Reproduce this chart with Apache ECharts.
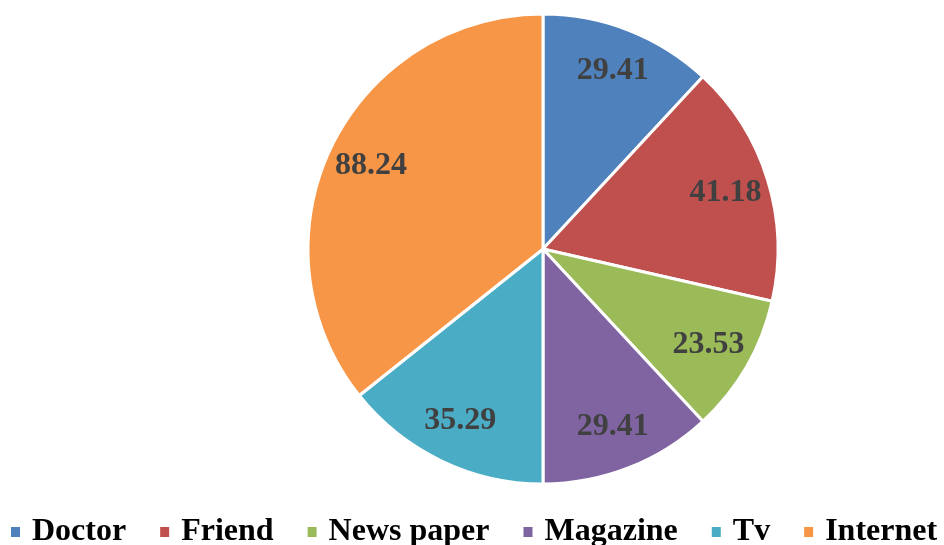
<!DOCTYPE html>
<html><head><meta charset="utf-8">
<script src="https://cdn.jsdelivr.net/npm/echarts@6/dist/echarts.min.js"></script>
<style>html,body{margin:0;padding:0;background:#fff}#c{width:944px;height:545px}</style>
</head><body><div id="c"></div>
<script>
var categories = ['Doctor', 'Friend', 'News paper', 'Magazine', 'Tv', 'Internet'];
var values = [29.41, 41.18, 23.53, 29.41, 35.29, 88.24];
var colors = ['#4F81BD', '#C0504D', '#9BBB59', '#8064A2', '#4BACC6', '#F79646'];

var data = categories.map(function (c, i) { return { name: c, value: values[i] }; });
var chart = echarts.init(document.getElementById('c'));
chart.setOption({
  animation: false,
  color: colors,
  legend: {
    data: categories,
    left: 4,
    top: 511,
    width: 1200,
    itemWidth: 11,
    itemHeight: 12,
    itemGap: 32,
    icon: 'rect',
    textStyle: { fontFamily: 'Liberation Serif', fontWeight: 'bold', fontSize: 32, color: '#000', padding: [0, 0, 0, 6] }
  },
  series: [{
    type: 'pie',
    center: [543, 249],
    radius: [0, 235],
    startAngle: 90,
    clockwise: true,
    data: data,
    label: { show: false },
    labelLine: { show: false },
    itemStyle: { borderColor: '#fff', borderWidth: 3 },
    emphasis: { disabled: true }
  }, {
    type: 'pie',
    center: [543, 249],
    radius: [142, 234],
    startAngle: 90,
    clockwise: true,
    silent: true,
    data: data,
    legendHoverLink: false,
    itemStyle: { color: 'transparent', borderWidth: 0 },
    label: {
      show: true, position: 'inside',
      formatter: function (p) { return p.value.toFixed(2); },
      fontFamily: 'Liberation Serif', fontWeight: 'bold', fontSize: 32, color: '#404040'
    },
    labelLine: { show: false },
    emphasis: { disabled: true }
  }]
});
</script></body></html>
